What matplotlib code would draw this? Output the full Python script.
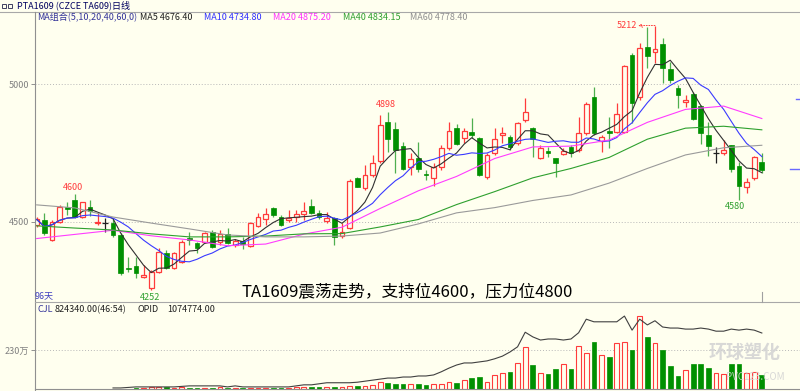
import matplotlib
matplotlib.use("Agg")
import matplotlib.pyplot as plt
from matplotlib.lines import Line2D
from matplotlib.patches import Rectangle
import numpy as np
import pandas as pd

plt.rcParams['font.family'] = ['Noto Sans CJK SC', 'DejaVu Sans']

# daily OHLC (yuan/ton)
opens = [4489, 4507, 4435, 4501, 4555, 4579, 4519, 4555, 4495, 4495,
         4495, 4453, 4335, 4340, 4299, 4259, 4320, 4388, 4332, 4356,
         4441, 4423, 4429, 4465, 4428, 4455, 4416, 4432, 4414, 4485,
         4509, 4549, 4519, 4507, 4517, 4529, 4558, 4534, 4505, 4513,
         4449, 4477, 4658, 4622, 4672, 4722, 4863, 4836, 4775, 4698,
         4731, 4673, 4658, 4698, 4767, 4839, 4803, 4827, 4803, 4664,
         4749, 4815, 4807, 4785, 4870, 4839, 4731, 4758, 4731, 4746,
         4773, 4761, 4821, 4952, 4795, 4830, 4827, 4827, 5105, 4952,
         5133, 5115, 5145, 5054, 4987, 4934, 4964, 4920, 4815, 4749,
         4749, 4779, 4704, 4628, 4658, 4719]
highs = [4519, 4531, 4507, 4561, 4573, 4600, 4573, 4579, 4531, 4513,
         4513, 4459, 4374, 4374, 4344, 4326, 4404, 4398, 4392, 4434,
         4465, 4429, 4465, 4471, 4471, 4477, 4440, 4447, 4501, 4531,
         4549, 4553, 4525, 4543, 4543, 4573, 4582, 4543, 4537, 4519,
         4497, 4654, 4662, 4706, 4742, 4887, 4898, 4863, 4791, 4749,
         4791, 4688, 4713, 4779, 4864, 4855, 4839, 4876, 4807, 4749,
         4839, 4845, 4815, 4864, 4948, 4845, 4779, 4771, 4731, 4767,
         4779, 4882, 4936, 4990, 4815, 4882, 4930, 5069, 5111, 5147,
         5208, 5212, 5166, 5081, 4996, 4960, 4972, 4924, 4864, 4773,
         4797, 4779, 4719, 4658, 4739, 4749]
lows = [4483, 4453, 4432, 4495, 4525, 4513, 4513, 4521, 4489, 4465,
        4447, 4308, 4320, 4296, 4296, 4252, 4314, 4328, 4328, 4350,
        4417, 4386, 4423, 4404, 4416, 4420, 4410, 4401, 4410, 4480,
        4489, 4519, 4485, 4501, 4501, 4507, 4529, 4509, 4495, 4416,
        4441, 4473, 4625, 4616, 4664, 4712, 4755, 4676, 4688, 4670,
        4682, 4652, 4630, 4689, 4761, 4779, 4785, 4803, 4667, 4655,
        4743, 4785, 4761, 4779, 4864, 4737, 4727, 4737, 4664, 4743,
        4737, 4755, 4815, 4815, 4755, 4767, 4821, 4821, 4858, 4942,
        5057, 5075, 5002, 5002, 4912, 4915, 4870, 4783, 4739, 4713,
        4743, 4682, 4580, 4604, 4652, 4676]
closes = [4509, 4459, 4501, 4555, 4547, 4519, 4571, 4541, 4499, 4495,
          4453, 4314, 4328, 4314, 4308, 4320, 4392, 4332, 4386, 4428,
          4435, 4405, 4459, 4410, 4455, 4425, 4432, 4420, 4498, 4519,
          4529, 4525, 4489, 4513, 4529, 4541, 4534, 4517, 4513, 4447,
          4465, 4650, 4628, 4670, 4712, 4851, 4799, 4761, 4691, 4728,
          4691, 4670, 4698, 4767, 4831, 4783, 4831, 4815, 4670, 4743,
          4800, 4824, 4771, 4858, 4900, 4800, 4767, 4751, 4713, 4758,
          4749, 4821, 4926, 4824, 4807, 4821, 4891, 5066, 4932, 5129,
          5103, 5126, 5059, 5014, 4960, 4942, 4873, 4821, 4775, 4749,
          4760, 4692, 4632, 4644, 4737, 4688]

# volume (CJL) and open interest (OPID), in 10k lots
volumes = [0, 0, 0, 0, 0, 0, 0, 0, 0, 0,
           0, 0, 0, 6, 6, 9, 9, 9, 5, 9,
           5, 4, 5, 5, 9, 5, 5, 4, 5, 5,
           5, 5, 5, 6, 9, 9, 9, 12, 12, 12,
           12, 18, 18, 18, 21, 41, 35, 30, 28, 29,
           29, 24, 29, 29, 41, 35, 53, 65, 71, 41,
           83, 94, 100, 153, 248, 142, 94, 89, 118, 148,
           118, 254, 212, 277, 201, 189, 271, 277, 230, 431,
           307, 271, 230, 136, 77, 112, 148, 148, 124, 94,
           89, 148, 148, 94, 100, 82.4]
opid = [np.nan] * 10 + [2, 2, 3, 4, 4, 4, 4, 4, 4, 5,
                        6, 6, 6, 6, 6, 4, 6, 4, 4, 4,
                        4, 4, 4, 4, 6, 8, 8, 10, 12, 12,
                        12, 12, 13, 15, 17, 19, 21, 21, 23, 23,
                        25, 25, 27, 33, 40, 46, 50, 50, 52, 54,
                        58, 63, 71, 81, 109, 100, 94, 96, 96, 94,
                        96, 108, 134, 129, 129, 129, 129, 140, 113, 134,
                        123, 131, 119, 117, 117, 115, 115, 117, 115, 111,
                        111, 115, 113, 115, 113, 107.5]

# long moving averages every 5 days
ma_idx = list(range(0, 96, 5))
ma20 = [4440, 4455, 4470, 4450, 4435, 4414, 4420, 4456, 4481, 4549,
        4613, 4665, 4730, 4772, 4775, 4797, 4861, 4908, 4920, 4875]
ma40 = [4486, 4478, 4471, 4457, 4446, 4446, 4449, 4457, 4458, 4482,
        4509, 4563, 4610, 4660, 4694, 4734, 4800, 4840, 4847, 4834]
ma60 = [4562, 4551, 4518, 4496, 4475, 4453, 4446, 4446, 4449, 4460,
        4493, 4533, 4552, 4578, 4598, 4641, 4694, 4743, 4769, 4778]

BG = "#FFFFEF"
RED = "#FF3B3B"
GREEN = "#009000"
GRID = "#B8B8B8"
W, H = 800, 391

def fx(px):
    return px / W

def fy(py):
    return 1 - py / H

o = np.array(opens, float)
h = np.array(highs, float)
l = np.array(lows, float)
c = np.array(closes, float)
x = np.arange(len(c))
up = c > o
dn = c < o
flat = c == o
s = pd.Series(c)
ma5 = s.rolling(5, min_periods=1).mean()
ma10 = s.rolling(10, min_periods=1).mean()

fig = plt.figure(figsize=(8, 3.91), dpi=100)
fig.patch.set_facecolor(BG)

# price panel
ax = fig.add_axes([fx(35), fy(302), fx(765), 290 / H])
ax.set_facecolor(BG)
ax.set_xlim(-0.22, 100.0)
ax.set_ylim(4210, 5261)
for sp in ax.spines.values():
    sp.set_visible(False)
ax.set_xticks([])
ax.set_yticks([4500, 5000])
ax.tick_params(axis="y", length=3, width=0.6, color="#808080", labelsize=6.5,
               labelcolor="#808080", pad=1)
ax.grid(axis="y", color=GRID, ls=(0, (1, 2)), lw=0.7)

bw = 0.62
ax.vlines(x[up], l[up], h[up], color=RED, lw=0.9, zorder=3)
ax.vlines(x[dn], l[dn], h[dn], color="#4FAF4F", lw=0.9, zorder=3)
ax.vlines(x[flat], l[flat], h[flat], color="#202020", lw=0.9, zorder=3)
ax.bar(x[up], (c - o)[up], bottom=o[up], width=bw, facecolor=BG,
       edgecolor=RED, lw=0.9, zorder=4)
ax.bar(x[dn], (o - c)[dn], bottom=c[dn], width=bw, color=GREEN,
       edgecolor=GREEN, lw=0.5, zorder=4)
ax.hlines(c[flat], x[flat] - 0.4, x[flat] + 0.4, color="#202020", lw=0.9, zorder=4)

ax.plot(x, ma5, color="#303030", lw=0.8, zorder=5)
ax.plot(x, ma10, color="#3A3AFF", lw=0.8, zorder=5)
ax.plot(ma_idx, ma20, color="#FF3CFF", lw=0.8, zorder=5)
ax.plot(ma_idx, ma40, color="#2EA02E", lw=0.8, zorder=5)
ax.plot(ma_idx, ma60, color="#9A9A9A", lw=0.8, zorder=5)

# extreme labels
ax.text(4.8, highs[5] + 10, "4600", color=RED, fontsize=6.5, ha="center", va="bottom")
ax.text(14.9, lows[15] - 8, "4252", color="#30A030", fontsize=6.5, ha="center", va="top")
ax.text(45.8, highs[46] + 12, "4898", color=RED, fontsize=6.5, ha="center", va="bottom")
ax.text(91.5, lows[92] - 8, "4580", color="#30A030", fontsize=6.5, ha="center", va="top")
hi = int(np.argmax(h))
ax.text(hi - 2.3, h[hi], "5212", color=RED, fontsize=6.5, ha="right", va="center")
ax.annotate("", xy=(hi - 2.2, h[hi]), xytext=(hi, h[hi]),
            arrowprops=dict(arrowstyle="->", color=RED, lw=0.7, ls=":",
                            shrinkA=0, shrinkB=0, mutation_scale=6))

# volume panel
axv = fig.add_axes([fx(35), fy(389), fx(765), 87 / H])
axv.set_facecolor("none")
axv.set_xlim(-0.22, 100.0)
axv.set_ylim(0, 513)
for sp in axv.spines.values():
    sp.set_visible(False)
axv.set_xticks([])
axv.set_yticks([230])
axv.set_yticklabels(["230万"])
axv.tick_params(axis="y", length=3, width=0.6, color="#808080", labelsize=6.5,
                labelcolor="#808080", pad=1)
axv.grid(axis="y", color=GRID, ls=(0, (1, 2)), lw=0.7)
v = np.array(volumes, float)
has = v > 0
vup = ~dn & has
vdn = dn & has
axv.bar(x[vup], v[vup], width=bw, facecolor=BG, edgecolor=RED, lw=0.8, zorder=3)
axv.bar(x[vdn], v[vdn], width=bw, color=GREEN, edgecolor=GREEN, lw=0.5, zorder=3)
axo = axv.twinx()
axo.set_ylim(0, 167)
axo.axis("off")
axo.plot(x, opid, color="#404040", lw=0.8, zorder=4)

# frame lines
fig.add_artist(Line2D([0, 1], [fy(12), fy(12)], color="#A8A8A8", lw=0.8))
fig.add_artist(Line2D([fx(35), fx(35)], [0, fy(12)], color="#909090", lw=0.8))
fig.add_artist(Line2D([fx(35), 1], [fy(302), fy(302)], color="#A8A8A8", lw=0.8))
fig.add_artist(Line2D([fx(35), 1], [fy(389), fy(389)], color="#909090", lw=0.8))
fig.add_artist(Line2D([fx(762), fx(762)], [fy(292), fy(302)], color="#A0A0A0", lw=0.8))
fig.add_artist(Line2D([fx(796), 1], [fy(99), fy(99)], color="#6A6AFF", lw=1))
fig.add_artist(Line2D([fx(790), 1], [fy(169), fy(169)], color="#6A6AFF", lw=1))

# header
fig.add_artist(Rectangle((fx(2), fy(8)), 4 / W, 4 / H, fill=False, ec="#404060", lw=0.7))
fig.add_artist(Rectangle((fx(8), fy(8)), 4 / W, 4 / H, fill=False, ec="#404060", lw=0.7))
fig.text(fx(17), fy(5.5), "PTA1609 (CZCE TA609)日线", fontsize=6.5, color="#000060", va="center")
legend = [("MA组合(5,10,20,40,60,0)", 37, "#333399"), ("MA5 4676.40", 140, "#202020"),
          ("MA10 4734.80", 204, "#3030FF"), ("MA20 4875.20", 273, "#FF30FF"),
          ("MA40 4834.15", 343, "#30A030"), ("MA60 4778.40", 410, "#909090")]
for txt, px, col in legend:
    fig.text(fx(px), fy(17), txt, fontsize=6.5, color=col, va="center")

fig.text(fx(35), fy(296), "96天", fontsize=6.5, color="#4040C0", va="center")
fig.text(fx(37), fy(310), "CJL", fontsize=6.5, color="#333399", va="center")
fig.text(fx(55), fy(310), "824340.00(46:54)", fontsize=6.5, color="#202020", va="center")
fig.text(fx(138), fy(310), "OPID", fontsize=6.5, color="#202020", va="center")
fig.text(fx(167), fy(310), "1074774.00", fontsize=6.5, color="#202020", va="center")

fig.text(fx(407), fy(293), "TA1609震荡走势，支持位4600，压力位4800", fontsize=12,
         color="black", ha="center", va="center")

# watermark
fig.text(fx(745), fy(352), "环球塑化", fontsize=13, color="#D4D4D4", ha="center",
         va="center", weight="bold", alpha=0.9, zorder=10)
fig.text(fx(755), fy(377), "PVC123.COM", fontsize=7, color="#D4D4D4", ha="center",
         va="center", alpha=0.9, zorder=10)

fig.savefig("out.png", dpi=100, facecolor=BG)
